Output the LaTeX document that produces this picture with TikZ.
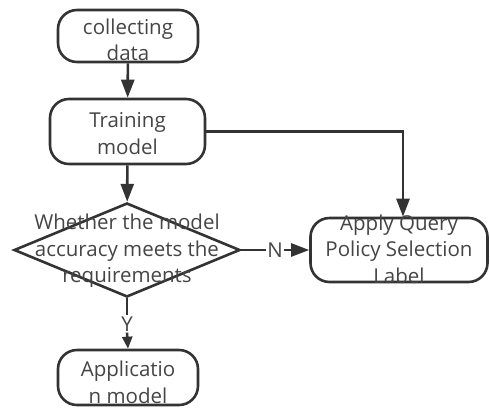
\documentclass[tikz,border=0pt]{standalone}
\usepackage{fontspec}
\setmainfont{Open Sans}
\usetikzlibrary{arrows.meta, shapes.geometric}

\definecolor{linegray}{HTML}{333333}
\definecolor{textgray}{HTML}{454545}

\begin{document}
\begin{tikzpicture}[x=1pt, y=1pt, >={Triangle[length=18pt, width=13pt]},
    line width=2.6pt, draw=linegray,
    every label/.style={font=\fontsize{20.5}{26.5}\selectfont, text=textgray,
        align=center, inner sep=0pt},
    roundbox/.style={draw=linegray, rectangle, rounded corners=19pt,
        inner sep=0pt},
    decision/.style={draw=linegray, diamond, inner sep=0pt, aspect=2.4,
        minimum width=226pt, minimum height=94pt},
    tag/.style={font=\fontsize{20.5}{22}\selectfont, text=textgray,
        inner sep=1pt}]

    % ── Page frame ───────────────────────────────────────────────────────────
    \useasboundingbox (0,0) rectangle (490,-408);

    % ── Boxes ────────────────────────────────────────────────────────────────
    \node[roundbox, minimum width=140pt, minimum height=52pt,
          label={[yshift=-4pt]center:collecting\\data}]
        (collect) at (128,-36) {};
    \node[roundbox, minimum width=155pt, minimum height=65pt,
          label={[yshift=-2pt]center:Training\\model}]
        (train) at (127.5,-131.5) {};
    \node[decision, label={[yshift=-1pt]center:Whether the model\\accuracy meets the\\requirements}]
        (check) at (127,-250) {};
    \node[roundbox, minimum width=177pt, minimum height=64pt,
          label={[yshift=1pt]center:Apply Query\\Policy Selection\\Label}]
        (apply) at (399,-250) {};
    \node[roundbox, minimum width=140pt, minimum height=55pt,
          label={[yshift=-5pt]center:Applicatio\\n model}]
        (use) at (128,-377.5) {};

    % ── Branch labels ────────────────────────────────────────────────────────
    \node[tag, inner sep=0pt] (no) at (275,-250) {N};
    \node[tag, inner sep=0pt] (yes) at (127,-324) {Y};

    % ── Connectors ───────────────────────────────────────────────────────────
    \draw[->, linegray] (collect) -- (train);
    \draw[->, linegray] (train) -- (check);
    \draw[->, linegray] (train.east) -| (apply.north -| 403,0);
    \draw[linegray] (check.east) -- (no.west);
    \draw[->, linegray] (no.east) -- (apply.west);
    \draw[linegray] (check.south) -- (yes.north);
    \draw[-{Triangle[length=12pt, width=10pt]}, linegray] (yes.south) -- (use.north);

\end{tikzpicture}
\end{document}
